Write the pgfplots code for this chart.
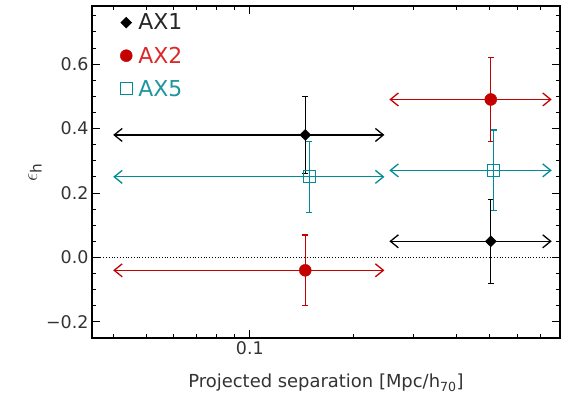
\documentclass[border=0pt]{standalone}
\usepackage{pgfplots}
\pgfplotsset{compat=1.18}
\usepackage{fontspec}
\setmainfont{DejaVu Sans}
\usetikzlibrary{arrows.meta}
\definecolor{axred}{RGB}{196,0,0}
\definecolor{axredtxt}{RGB}{220,40,40}
\definecolor{axteal}{RGB}{0,140,150}
\definecolor{axtealtxt}{RGB}{30,150,160}
\begin{document}
\begin{tikzpicture}[>={Straight Barb[length=8bp,width=13bp]}]
\path[use as bounding box] (-92bp,-63bp) rectangle (475bp,338bp);
\begin{axis}[
  at={(0,0)}, anchor=south west,
  scale only axis, width=468bp, height=332bp,
  xmode=log, xmin=0.0347, xmax=0.8,
  ymin=-0.25, ymax=0.78,
  xtick={0.1}, xticklabels={0.1},
  minor xtick={0.04,0.05,0.06,0.07,0.08,0.09,0.2,0.3,0.4,0.5,0.6,0.7,0.8},
  ytick={-0.2,0,0.2,0.4,0.6},
  yticklabels={−0.2,0.0,0.2,0.4,0.6},
  minor ytick={-0.25,-0.15,-0.1,-0.05,0.05,0.1,0.15,0.25,0.3,0.35,0.45,0.5,0.55,0.65,0.7,0.75},
  tick align=inside,
  major tick length=8bp, minor tick length=4bp,
  every tick/.style={black, line width=0.8bp},
  axis line style={black, line width=1.1bp},
  tick label style={font=\fontsize{17.5}{20}\selectfont, text=black!80},
  /pgf/number format/assume math mode=true,
  xlabel={Projected separation [Mpc/h\textsubscript{70}]},
  xlabel style={at={(axis description cs:0.5,-0.1355)}, anchor=center, font=\fontsize{18}{21}\selectfont, text=black!80},
  ylabel={$\epsilon$\textsubscript{h}},
  ylabel style={at={(axis description cs:-0.122,0.5)}, anchor=center, font=\fontsize{22}{24}\selectfont, text=black!80},
  legend style={at={(axis description cs:0.06,0.983)}, anchor=north west, draw=none, fill=none,
    font=\fontsize{22}{26}\selectfont, row sep=11.5bp, inner xsep=0pt, inner ysep=0pt},
  legend cell align=left,
  legend image code/.code={\draw[#1] plot coordinates {(0bp,0bp)};},
]
% zero line
\addplot[black, dotted, line width=0.8bp, forget plot] coordinates {(0.0347,0) (0.8,0)};
% bin arrows
\addplot[black, line width=1.3bp, <->, forget plot] coordinates {(0.04,0.38) (0.2465,0.38)};
\addplot[black, line width=1.3bp, <->, forget plot] coordinates {(0.2548,0.05) (0.757,0.05)};
\addplot[axred, line width=1.3bp, <->, forget plot] coordinates {(0.04,-0.04) (0.2465,-0.04)};
\addplot[axred, line width=1.3bp, <->, forget plot] coordinates {(0.2548,0.49) (0.757,0.49)};
\addplot[axteal, line width=1.3bp, <->, forget plot] coordinates {(0.04,0.25) (0.2465,0.25)};
\addplot[axteal, line width=1.3bp, <->, forget plot] coordinates {(0.2548,0.27) (0.757,0.27)};
% points with error bars
\addplot[black, only marks, mark=square*, mark size=3.9bp, mark options={rotate=45, fill=black},
  error bars/.cd, y dir=both, y explicit,
  error bar style={line width=1.3bp, black},
  error mark options={rotate=90, mark size=3bp, line width=1.3bp}]
  coordinates {(0.145,0.38) += (0,0.12) -= (0,0.12)
               (0.503,0.05) += (0,0.13) -= (0,0.13)};
\addlegendentry{\hspace*{4bp}\textcolor{black!85}{AX1}}
\addplot[axred, only marks, mark=*, mark size=6bp, mark options={fill=axred},
  error bars/.cd, y dir=both, y explicit,
  error bar style={line width=1.3bp, axred},
  error mark options={rotate=90, mark size=3bp, line width=1.3bp}]
  coordinates {(0.145,-0.04) += (0,0.11) -= (0,0.11)
               (0.503,0.49) += (0,0.13) -= (0,0.13)};
\addlegendentry{\hspace*{4bp}\textcolor{axredtxt}{AX2}}
\addplot[axteal, only marks, mark=square, mark size=6bp, mark options={line width=1.1bp},
  error bars/.cd, y dir=both, y explicit,
  error bar style={line width=1.3bp, axteal},
  error mark options={rotate=90, mark size=3bp, line width=1.3bp}]
  coordinates {(0.149,0.25) += (0,0.11) -= (0,0.11)
               (0.513,0.27) += (0,0.125) -= (0,0.125)};
\addlegendentry{\hspace*{4bp}\textcolor{axtealtxt}{AX5}}
\end{axis}
\end{tikzpicture}
\end{document}
